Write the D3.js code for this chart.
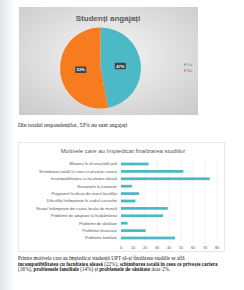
<!DOCTYPE html>
<html><head><meta charset="utf-8">
<script src="https://cdn.jsdelivr.net/npm/d3@7/dist/d3.min.js"></script>
<style>html,body{margin:0;padding:0;background:#fff;overflow:hidden}</style>
</head><body>
<svg id="c" width="244" height="290"></svg>
<script>
const pieCategories = ["Da", "Nu"];
const pieValues = [47, 53];
const barCategories = [
  "Mutarea în alt oraș/altă țară",
  "Schimbarea totală în ceea ce privește cariera",
  "Incompatibilitatea cu facultatea aleasă",
  "Restanțele la examene",
  "Programul încărcat din orarul facultății",
  "Dificultăți întâmpinate în cadrul cursurilor",
  "Situații întâmpinate din cauza locului de muncă",
  "Probleme de adaptare la învățământul",
  "Probleme de sănătate",
  "Probleme financiare",
  "Probleme familiale"
];
const barValues = [23, 52, 74, 9, 15, 12, 39, 35, 5.5, 20.5, 45];
const xTicks = [0, 10, 20, 30, 40, 50, 60, 70, 80];

const svg = d3.select("#c");
const defs = svg.append("defs");

const lg = defs.append("linearGradient").attr("id","lg").attr("x1","0").attr("x2","1");
lg.append("stop").attr("offset","0").attr("stop-color","#dfe6ea");
lg.append("stop").attr("offset","1").attr("stop-color","#ffffff");
svg.append("rect").attr("x",0).attr("y",0).attr("width",14).attr("height",290).attr("fill","url(#lg)");

const rg = defs.append("radialGradient").attr("id","rg").attr("cx","0.5").attr("cy","0.45").attr("r","0.75");
rg.append("stop").attr("offset","0").attr("stop-color","#f6f6f6");
rg.append("stop").attr("offset","1").attr("stop-color","#c9c9c9");
svg.append("rect").attr("x",19).attr("y",7).attr("width",179).attr("height",108).attr("fill","url(#rg)");

svg.append("text").attr("x",108).attr("y",21).attr("text-anchor","middle")
  .attr("font-family","Liberation Sans, Arial, sans-serif").attr("font-weight","bold")
  .attr("font-size",8).attr("fill","#595959").text("Studenți angajați");

const pieColors = d3.scaleOrdinal().domain(pieCategories).range(["#4bbac6","#f77b1f"]);
const pie = d3.pie().sort(null).value(d => d.v);
const pdata = pie(pieCategories.map((c,i)=>({c, v: pieValues[i]})));
const R = 40.5;
const arc = d3.arc().innerRadius(0).outerRadius(R);
const labArc = d3.arc().innerRadius(R*0.49).outerRadius(R*0.49);
const pg = svg.append("g").attr("transform","translate(100.5,68)");
pg.selectAll("path").data(pdata).join("path").attr("d",arc).attr("fill",d=>pieColors(d.data.c));
const lab = pg.selectAll("g.l").data(pdata).join("g").attr("class","l")
  .attr("transform",d=>`translate(${labArc.centroid(d)})`);
lab.append("rect").attr("x",-5.5).attr("y",-3.3).attr("width",11).attr("height",6.4).attr("fill","#3e4448").attr("rx",0.5);
lab.append("text").attr("text-anchor","middle").attr("y",1.4)
  .attr("font-family","Liberation Sans, Arial, sans-serif").attr("font-size",4).attr("font-weight","bold")
  .attr("fill","#ffffff").text(d=>d.data.v+"%");

const leg = svg.append("g").selectAll("g").data(pieCategories).join("g")
  .attr("transform",(d,i)=>`translate(184,${64.5+i*6})`);
leg.append("rect").attr("x",0).attr("y",-1).attr("width",2).attr("height",2).attr("fill",d=>pieColors(d));
leg.append("text").attr("x",3).attr("y",1.4).attr("font-family","Liberation Sans, Arial, sans-serif")
  .attr("font-size",4).attr("fill","#7f7f7f").text(d=>d);

svg.append("text").attr("x",18).attr("y",127).attr("font-family","Liberation Serif, Times New Roman, serif")
  .attr("font-size",5.7).attr("fill","#222").text("Din totalul respondenților, 53% nu sunt angajați");

svg.append("rect").attr("x",18.5).attr("y",142.5).attr("width",206).attr("height",109).attr("fill","#fff").attr("stroke","#e2e2e2").attr("stroke-width",0.8);
svg.append("text").attr("x",123).attr("y",153).attr("text-anchor","middle")
  .attr("font-family","Liberation Sans, Arial, sans-serif").attr("font-size",6).attr("fill","#595959")
  .text("Motivele care au împiedicat finalizarea studiilor");

const x = d3.scaleLinear().domain([0,80]).range([121,217]);
const y = d3.scaleBand().domain(barCategories).range([160.3,241.7]).paddingInner(0.63).paddingOuter(0.315);

svg.append("g").selectAll("line").data(xTicks).join("line")
  .attr("x1",d=>x(d)).attr("x2",d=>x(d)).attr("y1",160.3).attr("y2",241.7)
  .attr("stroke","#e6e6e6").attr("stroke-width",0.5);

svg.append("g").selectAll("rect").data(barCategories).join("rect")
  .attr("x",x(0)).attr("y",d=>y(d)).attr("width",(d,i)=>x(barValues[i])-x(0)).attr("height",y.bandwidth())
  .attr("fill","#4bb8c3");

svg.append("g").selectAll("text").data(barCategories).join("text")
  .attr("x",117).attr("y",d=>y(d)+y.bandwidth()/2+1.3).attr("text-anchor","end")
  .attr("font-family","Liberation Sans, Arial, sans-serif").attr("font-size",3.9).attr("fill","#555")
  .text(d=>d);

svg.append("g").selectAll("text").data(xTicks).join("text")
  .attr("x",d=>x(d)).attr("y",248.5).attr("text-anchor","middle")
  .attr("font-family","Liberation Sans, Arial, sans-serif").attr("font-size",3.8).attr("fill","#595959")
  .text(d=>d);

const para = [
  [["Printre motivele care au împiedicat studenții UPT să-și finalizeze studiile se află", false]],
  [["incompatibilitatea cu facultatea aleasă", true],[" (22%), ", false],["schimbarea totală în ceea ce privește cariera", true]],
  [["(16%), ", false],["problemele familiale", true],[" (14%) și ", false],["problemele de sănătate", true],[" doar 2%.", false]]
];
para.forEach((line,i)=>{
  const t = svg.append("text").attr("x",18).attr("y",260+i*5.6)
    .attr("font-family","Liberation Serif, Times New Roman, serif").attr("font-size",5.2).attr("fill","#222");
  line.forEach(([s,b])=>t.append("tspan").attr("font-weight",b?"bold":"normal").text(s));
});
</script>
</body></html>
